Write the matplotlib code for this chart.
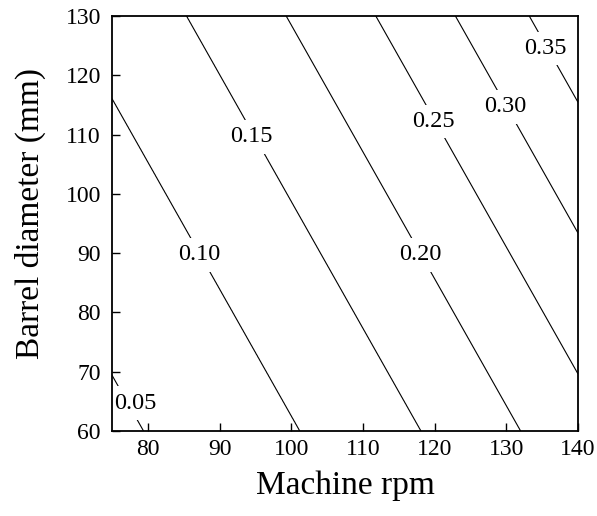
import numpy as np
import matplotlib
matplotlib.use('Agg')
import matplotlib.pyplot as plt

plt.rcParams['font.family'] = ['Liberation Serif', 'DejaVu Serif']

# contour levels and where each one meets the D = 60 mm line (read off the picture,
# extended past the frame for the upper levels)
levels = [0.05, 0.10, 0.15, 0.20, 0.25, 0.30, 0.35]
rpm_at_60 = [79.4, 101.2, 118.1, 132.0, 144.5, 155.6, 165.9]
# the lines are parallel: rpm drops by ~32.7 over the 70 mm range
drift = 32.7 / 70.0

# label centres (rpm, mm)
label_rpm = [78.3, 87.2, 94.5, 118.0, 119.8, 129.9, 135.5]
label_dia = [64.7, 89.7, 109.6, 89.7, 112.2, 114.7, 124.5]

xticks = [80, 90, 100, 110, 120, 130, 140]
yticks = [60, 70, 80, 90, 100, 110, 120, 130]

rpm = np.linspace(75, 140, 261)
dia = np.linspace(60, 130, 281)
R, D = np.meshgrid(rpm, dia)
U = R + drift * (D - 60)

u = np.array(rpm_at_60)
z = np.array(levels)
u_ext = np.r_[u[0] - (u[1] - u[0]), u, u[-1] + (u[-1] - u[-2])]
z_ext = np.r_[z[0] - 0.05, z, z[-1] + 0.05]
Z = np.interp(U, u_ext, z_ext)

fig = plt.figure(figsize=(5.97, 5.16), dpi=100)
ax = fig.add_axes([0.1876, 0.1647, 0.7806, 0.8043])

ax.contour(R, D, Z, levels=levels, colors='k', linewidths=0.8)

for lv, x, y in zip(levels, label_rpm, label_dia):
    ax.text(x, y, f'{lv:.2f}', ha='center', va='center', fontsize=17.5,
            bbox=dict(fc='white', ec='none', pad=4.5), zorder=2.2)

ax.set_xlim(75, 140)
ax.set_ylim(60, 130)
ax.set_xticks(xticks)
ax.set_yticks(yticks)
ax.tick_params(direction='in', length=6, width=1, labelsize=17,
               top=False, right=False)
ax.tick_params(axis='y', pad=8)
ax.tick_params(axis='x', pad=6)
for s in ax.spines.values():
    s.set_linewidth(1.3)

ax.set_xlabel('Machine rpm', fontsize=24, labelpad=7)
ax.set_ylabel('Barrel diameter (mm)', fontsize=24)
ax.yaxis.set_label_coords(-0.142, 0.523)

fig.savefig('out.png', dpi=100)
